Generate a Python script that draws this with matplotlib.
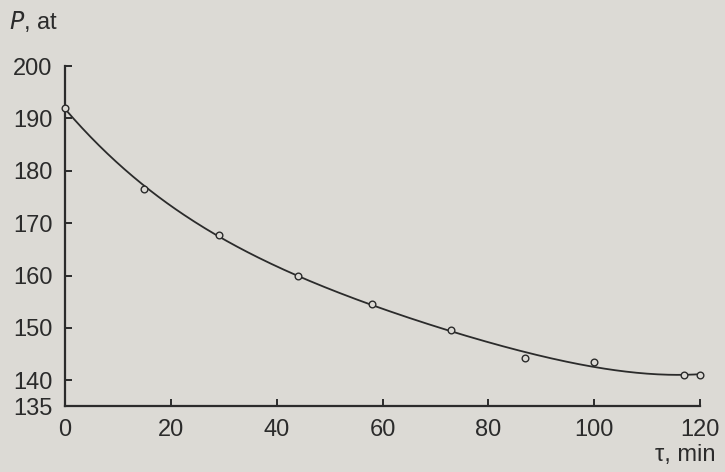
import numpy as np
import matplotlib.pyplot as plt

# ---- data ---------------------------------------------------------------
tau_min = [0, 15, 29, 44, 58, 73, 87, 100, 117, 120]
pressure_at = [192.0, 176.6, 167.8, 160.0, 154.5, 149.5, 144.2, 143.5, 141.0, 141.0]

x_ticks = [0, 20, 40, 60, 80, 100, 120]
y_ticks = [135, 140, 150, 160, 170, 180, 190, 200]

# ---- style ---------------------------------------------------------------
PAPER = "#dcdad5"
INK = "#2b2b2b"
plt.rcParams["font.family"] = ["Liberation Sans", "DejaVu Sans"]

fig = plt.figure(figsize=(7.25, 4.72), dpi=100, facecolor=PAPER)
ax = fig.add_axes([0.0897, 0.139, 0.876, 0.721])
ax.set_facecolor(PAPER)

# smooth fitted curve through the measurements
t = np.asarray(tau_min, dtype=float)
p = np.asarray(pressure_at, dtype=float)
coef = np.polyfit(t, p, 4)
tt = np.linspace(0, 120, 300)
ax.plot(tt, np.polyval(coef, tt), color=INK, lw=1.3, zorder=2)

ax.plot(t, p, ls="none", marker="o", ms=4.8, mfc=PAPER, mec=INK, mew=1.0,
        zorder=3, clip_on=False)

ax.set_xlim(0, 120)
ax.set_ylim(135, 200)
ax.set_xticks(x_ticks)
ax.set_yticks(y_ticks)

for side in ("top", "right"):
    ax.spines[side].set_visible(False)
for side in ("left", "bottom"):
    ax.spines[side].set_color(INK)
    ax.spines[side].set_linewidth(1.6)

ax.tick_params(direction="in", length=5, width=1.4, color=INK,
               labelsize=17, labelcolor=INK)
ax.tick_params(axis="y", pad=9)
ax.tick_params(axis="x", pad=9)

fig.text(0.012, 0.955, r"$P$, at", fontsize=17, color=INK, ha="left", va="center",
         math_fontfamily="dejavusans")
fig.text(0.987, 0.035, "τ, min", fontsize=17, color=INK, ha="right", va="center")

fig.savefig("out.png", dpi=100, facecolor=PAPER)
